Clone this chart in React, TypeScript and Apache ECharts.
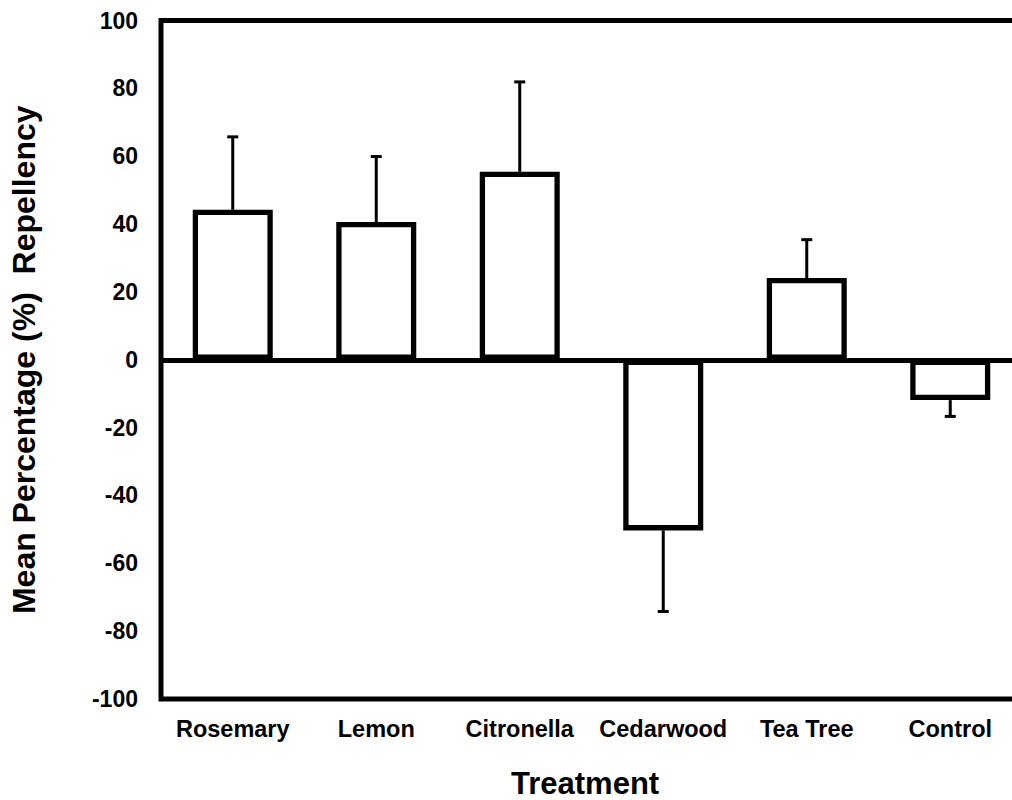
import React, { useEffect, useRef } from "react";
import * as echarts from "echarts";

const categories = ["Rosemary", "Lemon", "Citronella", "Cedarwood", "Tea Tree", "Control"];
const means = [44.2, 40.6, 55.4, -50.3, 24.1, -11.9];
const errors = [21.5, 19.3, 26.5, 23.9, 11.3, 4.8];
const yTicks = { min: -100, max: 100, interval: 20 };
const yTitle = "Mean Percentage (%)  Repellency";
const xTitle = "Treatment";

const FONT = '"Liberation Sans", Arial, Helvetica, sans-serif';

export default function App() {
  const ref = useRef<HTMLDivElement>(null);
  useEffect(() => {
    if (!ref.current) return;
    const chart = echarts.init(ref.current, null, { renderer: "svg" });
    const errData = categories.map((c, i) => [i, means[i], errors[i]]);
    chart.setOption({
      animation: false,
      backgroundColor: "#fff",
      grid: {
        left: 161,
        top: 20.5,
        width: 861,
        height: 678.5,
        show: true,
        borderColor: "#000",
        borderWidth: 5,
        backgroundColor: "transparent",
      },
      xAxis: {
        type: "category",
        data: categories,
        axisLine: { show: false },
        axisTick: { show: false },
        axisLabel: {
          interval: 0,
          color: "#000",
          fontFamily: FONT,
          fontWeight: "bold",
          fontSize: 23.5,
          margin: 18,
        },
        splitLine: { show: false },
      },
      yAxis: {
        type: "value",
        min: yTicks.min,
        max: yTicks.max,
        interval: yTicks.interval,
        axisLine: { show: false },
        axisTick: { show: false },
        splitLine: { show: false },
        axisLabel: {
          color: "#000",
          fontFamily: FONT,
          fontWeight: "bold",
          fontSize: 23,
          margin: 23,
        },
        name: yTitle,
        nameLocation: "middle",
        nameGap: 121,
        nameTextStyle: {
          color: "#000",
          fontFamily: FONT,
          fontWeight: "bold",
          fontSize: 32,
        },
      },
      graphic: [
        {
          type: "text",
          left: 511,
          top: 768,
          style: {
            text: xTitle,
            fill: "#000",
            font: `bold 31px ${FONT}`,
            align: "left",
          },
        },
      ],
      series: [
        {
          type: "bar",
          data: means,
          barWidth: 80,
          itemStyle: { color: "#fff", borderColor: "#000", borderWidth: 5.3 },
          markLine: {
            silent: true,
            symbol: "none",
            label: { show: false },
            lineStyle: { color: "#000", width: 5, type: "solid" },
            data: [{ yAxis: 0 }],
          },
        },
        {
          type: "custom",
          data: errData,
          z: 3,
          renderItem: (params: any, api: any) => {
            const i = api.value(0);
            const m = api.value(1);
            const e = api.value(2);
            const end = m >= 0 ? m + e : m - e;
            const p0 = api.coord([i, m]);
            const p1 = api.coord([i, end]);
            return {
              type: "group",
              children: [
                {
                  type: "line",
                  shape: { x1: p0[0], y1: p0[1], x2: p1[0], y2: p1[1] },
                  style: { stroke: "#000", lineWidth: 3 },
                },
                {
                  type: "line",
                  shape: { x1: p1[0] - 5.5, y1: p1[1], x2: p1[0] + 5.5, y2: p1[1] },
                  style: { stroke: "#000", lineWidth: 3 },
                },
              ],
            };
          },
        },
      ],
    });
    return () => chart.dispose();
  }, []);
  return (
    <div
      style={{
        position: "fixed",
        left: 0,
        top: 0,
        width: 1012,
        height: 800,
        overflow: "hidden",
        background: "#fff",
      }}
    >
      <div ref={ref} style={{ width: 1040, height: 800 }} />
    </div>
  );
}
